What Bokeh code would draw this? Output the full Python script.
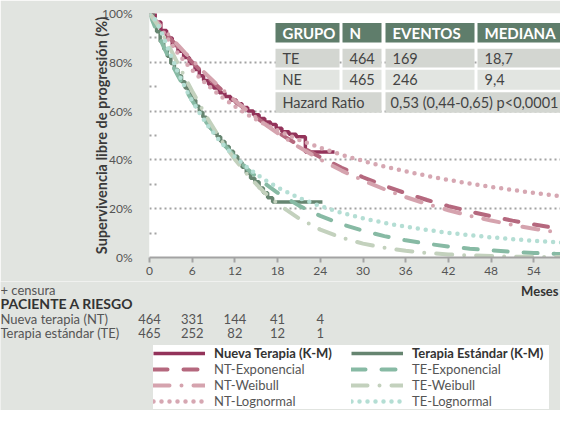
from bokeh.plotting import figure
from bokeh.layouts import column
from bokeh.models import (Range1d, FixedTicker, PrintfTickFormatter, Legend, LegendItem)
from bokeh.core.properties import value
from bokeh.embed import file_html
from bokeh.resources import INLINE

# ---------------- data ----------------
km_nt_t = [0, 0.8, 1.6, 2.4, 3.2, 4.0, 4.8, 5.6, 6.4, 7.0, 7.6, 8.3, 9.0, 9.8, 10.6, 11.4,
           12.2, 13.0, 13.8, 14.6, 15.4, 16.2, 17.0, 17.8, 18.6, 19.6, 20.6, 21.9, 26.0]
km_nt_s = [100, 96.5, 93, 90, 87, 84.5, 82, 79.5, 77, 74.5, 72.5, 71, 69.5, 67.5, 66, 64.5,
           63, 61.5, 60, 58.5, 57, 55.5, 54.5, 53, 51.5, 50.5, 49.5, 43.2, 43.2]

km_te_t = [0, 0.5, 1.0, 1.5, 2.0, 2.5, 3.0, 3.5, 4.0, 4.5, 5.0, 5.5, 6.0, 6.5, 7.0, 7.5, 8.0,
           8.5, 9.0, 9.5, 10.0, 10.6, 11.2, 11.8, 12.4, 13.0, 13.6, 14.2, 14.8, 15.4, 16.0,
           16.6, 17.3, 24.3]
km_te_s = [100, 96.5, 92.5, 88.5, 85.5, 82.5, 79.5, 77, 74.5, 72, 69.5, 67, 64.5, 62, 59.5,
           57.5, 55, 53, 51, 49.5, 47.5, 45.5, 43.5, 41.5, 39, 37, 34.5, 32.5, 31, 28.5, 26.5,
           24.5, 22.7, 22.7]

fit_t = [0, 1, 2, 3, 4, 5, 6, 8, 10, 12, 14, 16, 18, 21, 24, 27, 30, 33, 36, 39, 42, 45,
         48, 51, 54, 57, 60]
nt_exp = [100, 96.36, 92.86, 89.48, 86.22, 83.08, 80.06, 74.34, 69.03, 64.10, 59.52, 55.26,
          51.32, 45.91, 41.08, 36.76, 32.89, 29.43, 26.33, 23.56, 21.08, 18.86, 16.88, 15.10,
          13.51, 12.09, 10.82]
nt_wei = [100, 96.81, 93.51, 90.24, 87.03, 83.89, 80.84, 75.00, 69.51, 64.37, 59.58, 55.11,
          50.96, 45.26, 40.17, 35.63, 31.57, 27.97, 24.76, 21.90, 19.37, 17.12, 15.13, 13.37,
          11.80, 10.42, 9.19]
nt_log = [100, 96.72, 92.11, 87.72, 83.72, 80.09, 76.79, 71.02, 66.12, 61.90, 58.21, 54.96,
          52.07, 48.26, 44.97, 42.10, 39.57, 37.32, 35.29, 33.47, 31.81, 30.31, 28.93, 27.66,
          26.48, 25.40, 24.39]
te_exp = [100, 92.89, 86.29, 80.15, 74.46, 69.16, 64.25, 55.44, 47.84, 41.28, 35.62, 30.73,
          26.52, 21.26, 17.04, 13.66, 10.95, 8.77, 7.03, 5.64, 4.52, 3.62, 2.90, 2.33, 1.86,
          1.50, 1.20]
te_wei = [100, 96.00, 90.75, 85.12, 79.38, 73.70, 68.16, 57.74, 48.39, 40.18, 33.10, 27.08,
          22.01, 15.96, 11.43, 8.10, 5.69, 3.96, 2.73, 1.87, 1.27, 0.86, 0.58, 0.38, 0.25,
          0.17, 0.11]
te_log = [100, 96.92, 90.08, 82.76, 75.89, 69.68, 64.13, 54.77, 47.30, 41.25, 36.29, 32.16,
          28.70, 24.45, 21.07, 18.32, 16.06, 14.19, 12.61, 11.27, 10.12, 9.13, 8.27, 7.52,
          6.86, 6.28, 5.77]

risk_t = [0, 6, 12, 18, 24]
risk_nt = [464, 331, 144, 41, 4]
risk_te = [465, 252, 82, 12, 1]
risk_labels = ["Nueva terapia (NT)", "Terapia estándar (TE)"]
risk_title = "PACIENTE A RIESGO"
censor_note = "+ censura"
x_title = "Meses"
y_title = "Supervivencia libre de progresión (%)"

x_ticks = [0, 6, 12, 18, 24, 30, 36, 42, 48, 54, 60]
y_ticks = [0, 20, 40, 60, 80, 100]
y_minor = [10, 30, 50, 70, 90]

table_header = ["GRUPO", "N", "EVENTOS", "MEDIANA"]
table_groups = ["TE", "NE"]
table_n = ["464", "465"]
table_events = ["169", "246"]
table_median = ["18,7", "9,4"]
hr_label = "Hazard Ratio"
hr_value = "0,53 (0,44-0,65) p<0,0001"

series_names = ["Nueva Terapia (K-M)", "Terapia Estándar (K-M)",
                "NT-Exponencial", "NT-Weibull", "NT-Lognormal",
                "TE-Exponencial", "TE-Weibull", "TE-Lognormal"]

# ---------------- layout / style ----------------
W = 560
HA, HB = 281, 129
FL, FT, FB, FR = 149, 13, 257, 560
PPM = 7.117                     # pixels per month
PPP = (FB - FT) / 100.0
BG = "#e1e4e0"
FONT = "Lato"

C_NT_KM, C_NT_EXP, C_NT_WEI, C_NT_LOG = "#93335a", "#b5687e", "#d5a3ae", "#d6a7b2"
C_TE_KM, C_TE_EXP, C_TE_WEI, C_TE_LOG = "#668570", "#87baa4", "#c3d1bd", "#b4ded4"
EXP_DASH = "14 16"
WEI_DASH = "16 12 0 12"
LOG_DASH = "0 8"

styles = [
    dict(kind="step", line_color=C_NT_KM, line_width=3.5),
    dict(kind="step", line_color=C_TE_KM, line_width=3.5),
    dict(kind="line", line_color=C_NT_EXP, line_width=4, line_dash=EXP_DASH, line_cap="round"),
    dict(kind="line", line_color=C_NT_WEI, line_width=4, line_dash=WEI_DASH, line_cap="round"),
    dict(kind="line", line_color=C_NT_LOG, line_width=4.5, line_dash=LOG_DASH, line_cap="round"),
    dict(kind="line", line_color=C_TE_EXP, line_width=4, line_dash=EXP_DASH, line_cap="round"),
    dict(kind="line", line_color=C_TE_WEI, line_width=4, line_dash=WEI_DASH, line_cap="round"),
    dict(kind="line", line_color=C_TE_LOG, line_width=4.5, line_dash=LOG_DASH, line_cap="round"),
]

def dx(px):
    return (px - FL) / PPM

def dy(py):
    return (FB - py) / PPP

X_END = dx(FR)

# ================= main plot =================
p = figure(width=W, height=HA, x_range=Range1d(0, X_END), y_range=Range1d(0, 100),
           output_backend="svg", toolbar_location=None, title=None, frame_align=False,
           min_border_left=FL, min_border_right=W - FR, min_border_top=FT,
           min_border_bottom=HA - FB, background_fill_color="white",
           border_fill_color=BG, outline_line_color=None)

p.xaxis.ticker = FixedTicker(ticks=x_ticks)
p.xaxis.axis_line_color = "#a3a3a3"
p.xaxis.axis_line_width = 2
p.xaxis.major_tick_line_color = "#a3a3a3"
p.xaxis.major_tick_line_width = 2
p.xaxis.major_tick_out = 5
p.xaxis.major_tick_in = 0
p.xaxis.minor_tick_line_color = None
p.xaxis.major_label_text_font = FONT
p.xaxis.major_label_text_font_size = "12px"
p.xaxis.major_label_text_color = "#555555"
p.xaxis.major_label_standoff = 4

p.yaxis.ticker = FixedTicker(ticks=y_ticks, minor_ticks=y_minor)
p.yaxis.formatter = PrintfTickFormatter(format="%d%%")
p.yaxis.axis_line_color = None
p.yaxis.major_tick_line_color = None
p.yaxis.minor_tick_in = 9
p.yaxis.minor_tick_out = 0
p.yaxis.minor_tick_line_color = "#a3a3a3"
p.yaxis.minor_tick_line_width = 2
p.yaxis.minor_tick_line_dash = "2 3"
p.yaxis.major_label_text_font = FONT
p.yaxis.major_label_text_font_size = "12px"
p.yaxis.major_label_text_color = "#555555"
p.yaxis.major_label_standoff = 11
p.yaxis.axis_label = y_title
p.yaxis.axis_label_text_font = FONT
p.yaxis.axis_label_text_font_style = "bold"
p.yaxis.axis_label_text_font_size = "14.5px"
p.yaxis.axis_label_text_color = "#3a3a3a"
p.yaxis.axis_label_standoff = -11

p.xgrid.visible = False
p.ygrid.grid_line_color = "#a3a3a3"
p.ygrid.grid_line_width = 2
p.ygrid.grid_line_dash = "2 3"

series_xy = [(km_nt_t, km_nt_s), (km_te_t, km_te_s), (fit_t, nt_exp), (fit_t, nt_wei),
             (fit_t, nt_log), (fit_t, te_exp), (fit_t, te_wei), (fit_t, te_log)]

def draw(fig, xs, ys, st, **extra):
    kw = {k: v for k, v in st.items() if k != "kind"}
    kw.update(extra)
    if st["kind"] == "step":
        return fig.step(xs, ys, mode="after", **kw)
    return fig.line(xs, ys, **kw)

for (xs, ys), st in zip(series_xy, styles):
    draw(p, xs, ys, st)

# summary table inside the frame (top right)
col_px = [(275, 339), (342, 381), (385, 474), (477, 560)]
row_px = [(22.5, 42), (48.3, 67), (69.3, 89.3), (91.8, 112.3)]
C_HEAD, C_ROW_D, C_ROW_L = "#5f7d6b", "#d3d6d1", "#e2e5e1"
q_l, q_r, q_t, q_b, q_c = [], [], [], [], []
for ri, (top, bot) in enumerate(row_px[:3]):
    for (cl, cr) in col_px:
        q_l.append(dx(cl)); q_r.append(dx(cr)); q_t.append(dy(top)); q_b.append(dy(bot))
        q_c.append([C_HEAD, C_ROW_D, C_ROW_L][ri])
top, bot = row_px[3]
for (cl, cr) in [(col_px[0][0], col_px[1][1]), (col_px[2][0], col_px[3][1])]:
    q_l.append(dx(cl)); q_r.append(dx(cr)); q_t.append(dy(top)); q_b.append(dy(bot))
    q_c.append(C_ROW_D)
p.quad(left=q_l, right=q_r, top=q_t, bottom=q_b, fill_color=q_c, line_color=None)

PAD = 7
hx = [dx(cl + PAD) for cl, _ in col_px]
hy = [dy((row_px[0][0] + row_px[0][1]) / 2)] * 4
p.text(x=hx, y=hy, text=table_header, text_font=value(FONT), text_font_size=value("15px"),
       text_font_style="bold", text_color="white", text_baseline="middle")
b_x, b_y, b_t = [], [], []
for i in range(2):
    cy = dy((row_px[i + 1][0] + row_px[i + 1][1]) / 2)
    for ci, txt in enumerate([table_groups[i], table_n[i], table_events[i], table_median[i]]):
        b_x.append(dx(col_px[ci][0] + PAD)); b_y.append(cy); b_t.append(txt)
cy = dy((row_px[3][0] + row_px[3][1]) / 2)
b_x += [dx(col_px[0][0] + PAD), dx(col_px[2][0] + 5)]
b_y += [cy, cy]
b_t += [hr_label, hr_value]
p.text(x=b_x, y=b_y, text=b_t, text_font=value(FONT), text_font_size=value("14.5px"),
       text_color="#444444", text_baseline="middle")

# ================= bottom panel: risk table + legend =================
q = figure(width=W, height=HB, x_range=Range1d(dx(0), X_END), y_range=Range1d(HB, 0),
           output_backend="svg", toolbar_location=None, title=None, frame_align=False,
           x_axis_type=None, y_axis_type=None, min_border=0,
           min_border_left=0, min_border_right=0, min_border_top=0, min_border_bottom=0,
           background_fill_color=BG, border_fill_color=BG, outline_line_color=None)
q.xgrid.visible = False
q.ygrid.grid_line_color = None
q.extra_y_ranges = {"hidden": Range1d(-1000, -900)}

X0 = dx(0)
TXT = dict(text_font=value(FONT), text_baseline="middle")
q.text(x=[X0], y=[8], text=[censor_note], text_font_size=value("13px"),
       text_color="#555555", **TXT)
q.text(x=[dx(558)], y=[9], text=[x_title], text_font_size=value("13px"),
       text_font_style="bold", text_color="#333333", text_align="right", **TXT)
q.text(x=[X0], y=[22], text=[risk_title], text_font_size=value("14px"),
       text_font_style="bold", text_color="#333333", **TXT)
q.text(x=[X0, X0], y=[37, 51], text=risk_labels, text_font_size=value("13px"),
       text_color="#555555", **TXT)
q.text(x=risk_t, y=[37] * len(risk_t), text=[str(v) for v in risk_nt],
       text_font_size=value("13px"), text_color="#555555", text_align="center", **TXT)
q.text(x=risk_t, y=[51] * len(risk_t), text=[str(v) for v in risk_te],
       text_font_size=value("13px"), text_color="#555555", text_align="center", **TXT)

# legend: same series drawn on an off-screen range so the legend can show their styles
leg_r = [draw(q, xs, ys, st, y_range_name="hidden") for (xs, ys), st in zip(series_xy, styles)]

common = dict(padding=4, spacing=0, glyph_width=52, glyph_height=16, label_height=16,
              label_width=137, label_standoff=9, label_text_font=FONT,
              background_fill_color="white",
              background_fill_alpha=1.0, border_line_color=None, margin=0)
leg_fit = Legend(items=[LegendItem(label=series_names[i], renderers=[leg_r[i]])
                        for i in range(2, 8)],
                 location=(153, 1), ncols=2, label_text_color="#555555",
                 label_text_font_size="13px", **common)
leg_km = Legend(items=[LegendItem(label=series_names[i], renderers=[leg_r[i]])
                       for i in range(2)],
                location=(153, 49), orientation="horizontal", label_text_color="#333333",
                label_text_font_size="13px", label_text_font_style="bold", **common)
q.add_layout(leg_fit)
q.add_layout(leg_km)

layout = column(p, q, spacing=0)
open("out.html", "w").write(file_html(layout, INLINE))
